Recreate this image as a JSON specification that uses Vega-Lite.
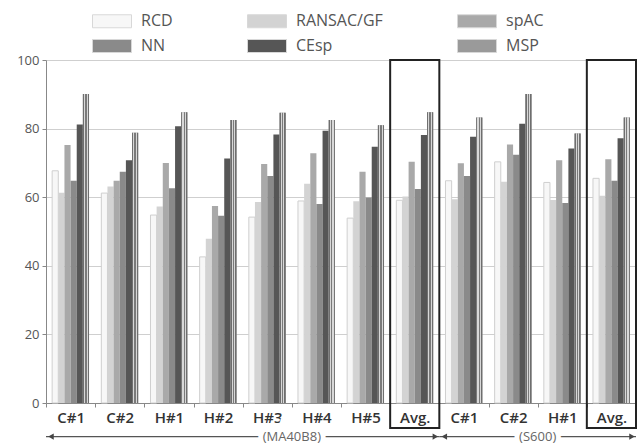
{
  "$schema": "https://vega.github.io/schema/vega-lite/v6.json",
  "width": 590,
  "height": 343,
  "autosize": {"type": "none"},
  "padding": {"left": 46, "top": 60, "right": 3, "bottom": 41},
  "background": "white",
  "config": {"view": {"stroke": null}, "font": "Open Sans"},
  "data": {
    "values": [
      {"cat": "a:C#1", "method": "RCD", "value": 67.7}, {"cat": "a:C#1", "method": "RANSAC/GF", "value": 61.3}, {"cat": "a:C#1", "method": "spAC", "value": 75.2}, {"cat": "a:C#1", "method": "NN", "value": 64.8}, {"cat": "a:C#1", "method": "CEsp", "value": 81.2}, {"cat": "a:C#1", "method": "MSP", "value": 90.1},
      {"cat": "a:C#2", "method": "RCD", "value": 61.2}, {"cat": "a:C#2", "method": "RANSAC/GF", "value": 63.1}, {"cat": "a:C#2", "method": "spAC", "value": 64.8}, {"cat": "a:C#2", "method": "NN", "value": 67.4}, {"cat": "a:C#2", "method": "CEsp", "value": 70.8}, {"cat": "a:C#2", "method": "MSP", "value": 78.8},
      {"cat": "a:H#1", "method": "RCD", "value": 54.8}, {"cat": "a:H#1", "method": "RANSAC/GF", "value": 57.3}, {"cat": "a:H#1", "method": "spAC", "value": 70.0}, {"cat": "a:H#1", "method": "NN", "value": 62.6}, {"cat": "a:H#1", "method": "CEsp", "value": 80.7}, {"cat": "a:H#1", "method": "MSP", "value": 84.8},
      {"cat": "a:H#2", "method": "RCD", "value": 42.6}, {"cat": "a:H#2", "method": "RANSAC/GF", "value": 47.9}, {"cat": "a:H#2", "method": "spAC", "value": 57.4}, {"cat": "a:H#2", "method": "NN", "value": 54.6}, {"cat": "a:H#2", "method": "CEsp", "value": 71.3}, {"cat": "a:H#2", "method": "MSP", "value": 82.5},
      {"cat": "a:H#3", "method": "RCD", "value": 54.2}, {"cat": "a:H#3", "method": "RANSAC/GF", "value": 58.6}, {"cat": "a:H#3", "method": "spAC", "value": 69.7}, {"cat": "a:H#3", "method": "NN", "value": 66.2}, {"cat": "a:H#3", "method": "CEsp", "value": 78.3}, {"cat": "a:H#3", "method": "MSP", "value": 84.6},
      {"cat": "a:H#4", "method": "RCD", "value": 58.9}, {"cat": "a:H#4", "method": "RANSAC/GF", "value": 63.9}, {"cat": "a:H#4", "method": "spAC", "value": 72.8}, {"cat": "a:H#4", "method": "NN", "value": 58.0}, {"cat": "a:H#4", "method": "CEsp", "value": 79.4}, {"cat": "a:H#4", "method": "MSP", "value": 82.5},
      {"cat": "a:H#5", "method": "RCD", "value": 53.9}, {"cat": "a:H#5", "method": "RANSAC/GF", "value": 58.8}, {"cat": "a:H#5", "method": "spAC", "value": 67.4}, {"cat": "a:H#5", "method": "NN", "value": 59.9}, {"cat": "a:H#5", "method": "CEsp", "value": 74.7}, {"cat": "a:H#5", "method": "MSP", "value": 81.0},
      {"cat": "a:Avg.", "method": "RCD", "value": 59.1}, {"cat": "a:Avg.", "method": "RANSAC/GF", "value": 60.2}, {"cat": "a:Avg.", "method": "spAC", "value": 70.3}, {"cat": "a:Avg.", "method": "NN", "value": 62.4}, {"cat": "a:Avg.", "method": "CEsp", "value": 78.1}, {"cat": "a:Avg.", "method": "MSP", "value": 84.8},
      {"cat": "b:C#1", "method": "RCD", "value": 64.8}, {"cat": "b:C#1", "method": "RANSAC/GF", "value": 59.4}, {"cat": "b:C#1", "method": "spAC", "value": 69.9}, {"cat": "b:C#1", "method": "NN", "value": 66.2}, {"cat": "b:C#1", "method": "CEsp", "value": 77.6}, {"cat": "b:C#1", "method": "MSP", "value": 83.2},
      {"cat": "b:C#2", "method": "RCD", "value": 70.3}, {"cat": "b:C#2", "method": "RANSAC/GF", "value": 64.5}, {"cat": "b:C#2", "method": "spAC", "value": 75.4}, {"cat": "b:C#2", "method": "NN", "value": 72.4}, {"cat": "b:C#2", "method": "CEsp", "value": 81.4}, {"cat": "b:C#2", "method": "MSP", "value": 90.1},
      {"cat": "b:H#1", "method": "RCD", "value": 64.3}, {"cat": "b:H#1", "method": "RANSAC/GF", "value": 59.2}, {"cat": "b:H#1", "method": "spAC", "value": 70.8}, {"cat": "b:H#1", "method": "NN", "value": 58.3}, {"cat": "b:H#1", "method": "CEsp", "value": 74.2}, {"cat": "b:H#1", "method": "MSP", "value": 78.6},
      {"cat": "b:Avg.", "method": "RCD", "value": 65.5}, {"cat": "b:Avg.", "method": "RANSAC/GF", "value": 60.4}, {"cat": "b:Avg.", "method": "spAC", "value": 71.1}, {"cat": "b:Avg.", "method": "NN", "value": 64.8}, {"cat": "b:Avg.", "method": "CEsp", "value": 77.2}, {"cat": "b:Avg.", "method": "MSP", "value": 83.2}
    ]
  },
  "layer": [
    {
      "mark": {"type": "bar", "strokeWidth": 1},
      "encoding": {
        "x": {
          "field": "cat", "type": "nominal", "sort": null,
          "scale": {"domain": ["a:C#1", "a:C#2", "a:H#1", "a:H#2", "a:H#3", "a:H#4", "a:H#5", "a:Avg.", "b:C#1", "b:C#2", "b:H#1", "b:Avg."], "paddingInner": 0, "paddingOuter": 0},
          "axis": {"title": null, "labelExpr": "slice(datum.label, 2)", "tickBand": "extent", "tickSize": 4, "tickColor": "#888", "domainColor": "#888", "labelAngle": 0, "labelFontSize": 15, "labelFontWeight": 600, "labelColor": "#333", "labelPadding": 3, "grid": false}
        },
        "xOffset": {
          "field": "method", "type": "nominal", "sort": null,
          "scale": {"domain": ["RCD", "RANSAC/GF", "spAC", "NN", "CEsp", "MSP"], "paddingInner": 0, "paddingOuter": 1.1}
        },
        "y": {
          "field": "value", "type": "quantitative",
          "scale": {"domain": [0, 100], "nice": false, "zero": true},
          "axis": {
            "title": null,
            "values": [0, 10, 20, 30, 40, 50, 60, 70, 80, 90, 100],
            "labelExpr": "datum.value % 20 === 0 ? datum.label : ''",
            "grid": true,
            "gridColor": {"condition": {"test": "datum.value % 20 !== 0", "value": "#dadada"}, "value": "#cfcfcf"},
            "gridDash": {"condition": {"test": "datum.value % 20 !== 0", "value": [3, 3]}, "value": []},
            "tickOpacity": {"condition": {"test": "datum.value % 20 !== 0", "value": 0}, "value": 1},
            "tickSize": 4, "tickColor": "#888", "domainColor": "#888",
            "labelColor": "#555", "labelFontSize": 13, "labelPadding": 3
          }
        },
        "color": {
          "field": "method", "type": "nominal", "sort": null,
          "scale": {"domain": ["RCD", "RANSAC/GF", "spAC", "NN", "CEsp", "MSP"], "range": ["#f7f7f7", "#d3d3d3", "#a9a9a9", "#8a8a8a", "#565656", "#9a9a9a"]},
          "legend": {
            "title": null, "orient": "none", "legendX": 45, "legendY": -47,
            "columns": 3, "direction": "horizontal",
            "symbolType": "M-1,-1H5V1H-1Z", "symbolSize": 169,
            "symbolStrokeColor": "#d8d8d8", "symbolStrokeWidth": 1, "symbolOpacity": 1,
            "labelFontSize": 16, "labelColor": "#555", "labelOffset": 34,
            "columnPadding": 72, "rowPadding": 7
          }
        },
        "stroke": {"condition": {"test": "datum.method === 'RCD'", "value": "#cfcfcf"}, "value": "transparent"}
      }
    },
    {
      "transform": [{"filter": "datum.method === 'MSP'"}],
      "mark": {
        "type": "bar",
        "color": {"gradient": "linear", "x1": 0, "x2": 1, "y1": 0, "y2": 0, "stops": [
          {"offset": 0, "color": "#6e6e6e"}, {"offset": 0.2, "color": "#6e6e6e"}, {"offset": 0.2, "color": "#d8d8d8"}, {"offset": 0.4, "color": "#d8d8d8"},
          {"offset": 0.4, "color": "#7a7a7a"}, {"offset": 0.6, "color": "#7a7a7a"}, {"offset": 0.6, "color": "#d8d8d8"}, {"offset": 0.8, "color": "#d8d8d8"},
          {"offset": 0.8, "color": "#6e6e6e"}, {"offset": 1, "color": "#6e6e6e"}
        ]}
      },
      "encoding": {
        "x": {"field": "cat", "type": "nominal", "sort": null},
        "xOffset": {"field": "method", "type": "nominal", "sort": null, "scale": {"domain": ["RCD", "RANSAC/GF", "spAC", "NN", "CEsp", "MSP"], "paddingInner": 0, "paddingOuter": 1.1}},
        "y": {"field": "value", "type": "quantitative"}
      }
    },
    {
      "data": {"values": [{"cat": "a:Avg."}, {"cat": "b:Avg."}]},
      "mark": {"type": "rect", "fill": "transparent", "stroke": "#222", "strokeWidth": 2},
      "encoding": {
        "x": {"field": "cat", "type": "nominal", "sort": null},
        "y": {"datum": -7.3, "type": "quantitative"},
        "y2": {"datum": 100}
      }
    },
    {
      "data": {"values": [{"s": "a:C#1", "e": "a:Avg.", "mid": "a:H#4", "label": "(MA40B8)"}, {"s": "b:C#1", "e": "b:Avg.", "mid": "b:H#1", "label": "(S600)"}]},
      "layer": [
        {
          "mark": {"type": "rule", "color": "#555", "strokeWidth": 1.2},
          "encoding": {
            "x": {"field": "s", "type": "nominal", "bandPosition": 0},
            "x2": {"field": "e", "bandPosition": 1},
            "y": {"datum": -9.8, "type": "quantitative"}
          }
        },
        {
          "mark": {"type": "point", "shape": "triangle-left", "filled": true, "size": 40, "color": "#444", "opacity": 1, "xOffset": 5},
          "encoding": {
            "x": {"field": "s", "type": "nominal", "bandPosition": 0},
            "y": {"datum": -9.8, "type": "quantitative"}
          }
        },
        {
          "mark": {"type": "point", "shape": "triangle-right", "filled": true, "size": 40, "color": "#444", "opacity": 1, "xOffset": -4},
          "encoding": {
            "x": {"field": "e", "type": "nominal", "bandPosition": 1},
            "y": {"datum": -9.8, "type": "quantitative"}
          }
        },
        {
          "mark": {"type": "text", "fontSize": 13, "color": "white", "stroke": "white", "strokeWidth": 10, "baseline": "middle"},
          "encoding": {
            "x": {"field": "mid", "type": "nominal", "bandPosition": 0},
            "y": {"datum": -9.8, "type": "quantitative"},
            "text": {"field": "label"}
          }
        },
        {
          "mark": {"type": "text", "fontSize": 13, "color": "#666", "baseline": "middle"},
          "encoding": {
            "x": {"field": "mid", "type": "nominal", "bandPosition": 0},
            "y": {"datum": -9.8, "type": "quantitative"},
            "text": {"field": "label"}
          }
        }
      ]
    }
  ]
}
